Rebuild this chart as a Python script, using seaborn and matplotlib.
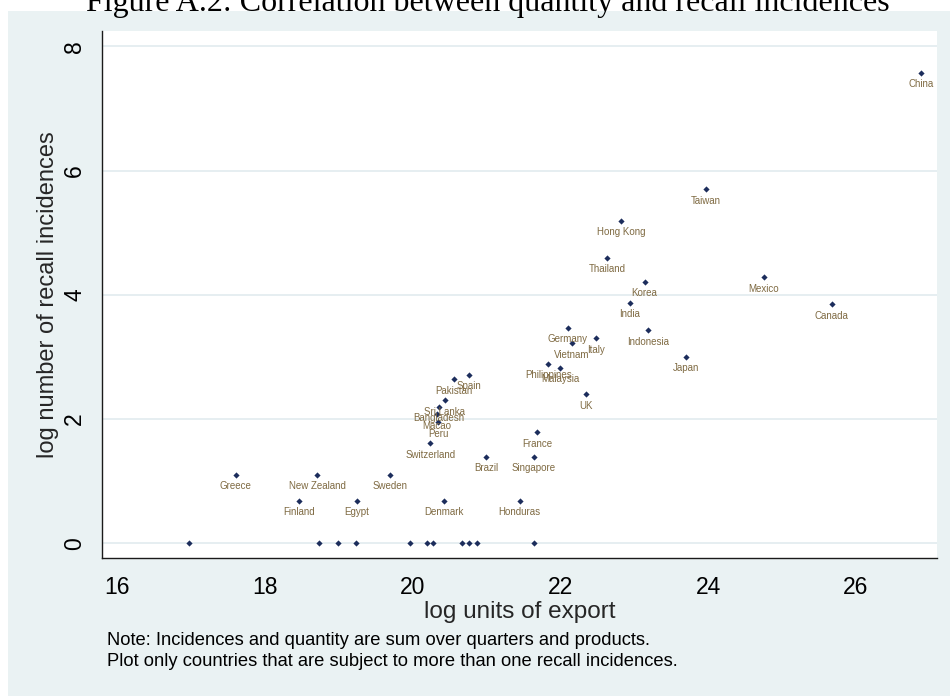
import matplotlib
matplotlib.use("Agg")
import matplotlib.pyplot as plt
from matplotlib.patches import Rectangle
import pandas as pd
import seaborn as sns

# Countries with recall incidences: log units of export vs log number of recalls
countries = [
    "China", "Taiwan", "Hong Kong", "Thailand", "Korea", "Mexico", "India",
    "Canada", "Indonesia", "Germany", "Italy", "Vietnam", "Japan",
    "Philippines", "Malaysia", "UK", "Spain", "Pakistan", "Sri Lanka",
    "Bangladesh", "Macao", "Peru", "Switzerland", "France", "Brazil",
    "Singapore", "Greece", "New Zealand", "Sweden", "Finland", "Egypt",
    "Denmark", "Honduras",
]
log_export = [
    26.88, 23.97, 22.82, 22.63, 23.14, 24.75, 22.94,
    25.67, 23.19, 22.10, 22.48, 22.16, 23.70,
    21.84, 22.00, 22.35, 20.76, 20.56, 20.44,
    20.36, 20.33, 20.35, 20.24, 21.69, 21.00,
    21.64, 17.61, 18.71, 19.70, 18.47, 19.25,
    20.42, 21.45,
]
log_recalls = [
    7.57, 5.70, 5.19, 4.60, 4.21, 4.28, 3.87,
    3.85, 3.43, 3.47, 3.30, 3.22, 3.00,
    2.89, 2.83, 2.40, 2.71, 2.64, 2.30,
    2.20, 2.08, 1.95, 1.61, 1.79, 1.39,
    1.39, 1.10, 1.10, 1.10, 0.69, 0.69,
    0.69, 0.69,
]
# Countries on the zero line (drawn without labels)
zero_export = [16.98, 18.73, 18.99, 19.24, 19.96, 20.20, 20.28, 20.67, 20.77, 20.87, 21.64]
zero_recalls = [0.0] * len(zero_export)

x_ticks = [16, 18, 20, 22, 24, 26]
y_ticks = [0, 2, 4, 6, 8]

title = "Figure A.2: Correlation between quantity and recall incidences"
note = ("Note: Incidences and quantity are sum over quarters and products.\n"
        "Plot only countries that are subject to more than one recall incidences.")

df = pd.DataFrame({
    "country": countries + [""] * len(zero_export),
    "log_export": log_export + zero_export,
    "log_recalls": log_recalls + zero_recalls,
})

BG = "#EAF2F3"
GRID = "#E6EEF1"
MARK = "#1c2d5c"
LABEL = "#7f6a42"
AXIS = "#1a1a1a"

sns.set_style("white")
plt.rcParams["font.family"] = ["Liberation Sans", "DejaVu Sans"]

fig = plt.figure(figsize=(9.5, 6.96), dpi=100)
fig.patch.set_facecolor("white")
fig.patches.append(Rectangle((8 / 950, 0), 1 - 8 / 950, 1 - 11 / 696,
                             transform=fig.transFigure, facecolor=BG,
                             edgecolor="none", zorder=-10))

ax = fig.add_axes([102 / 950, 1 - 558.3 / 696, 835.3 / 950, 527.6 / 696])
ax.set_facecolor("white")

sns.scatterplot(data=df, x="log_export", y="log_recalls", ax=ax,
                marker="D", s=10, color=MARK, linewidth=0, zorder=3)

for name, xv, yv in zip(df["country"], df["log_export"], df["log_recalls"]):
    if name:
        ax.annotate(name, (xv, yv), xytext=(0, -8.2), textcoords="offset points",
                    ha="center", va="center", fontsize=7, color=LABEL, zorder=4)

ax.set_xlim(15.80, 27.10)
ax.set_ylim(-0.24, 8.25)
ax.set_xticks(x_ticks)
ax.set_yticks(y_ticks)
ax.set_xticklabels([str(t) for t in x_ticks])
ax.set_yticklabels([str(t) for t in y_ticks], rotation=90, va="center")

ax.yaxis.grid(True, color=GRID, linewidth=1.4, zorder=0)
ax.xaxis.grid(False)
ax.set_axisbelow(True)

for side in ["top", "right"]:
    ax.spines[side].set_visible(False)
for side in ["left", "bottom"]:
    ax.spines[side].set_visible(True)
    ax.spines[side].set_color(AXIS)
    ax.spines[side].set_linewidth(1.0)

ax.tick_params(axis="both", which="major", direction="out", length=6.5,
               width=1.0, color=AXIS, labelsize=16.5, labelcolor="black")
ax.tick_params(axis="x", pad=6)
ax.tick_params(axis="y", pad=5)

ax.set_xlabel("log units of export", fontsize=17.5, va="center")
ax.xaxis.set_label_coords(0.5, (558.3 - 612) / 527.6)
ax.set_ylabel("log number of recall incidences", fontsize=17, va="center")
ax.yaxis.set_label_coords((48 - 102) / 835.3, 0.5)

fig.text(107 / 950, 1 - 632 / 696, note, ha="left", va="top",
         fontsize=13.2, linespacing=1.3, color="black")

fig.text(488 / 950, 1 - 11 / 696, title, ha="center", va="baseline",
         fontsize=23, family=["Liberation Serif", "DejaVu Serif"], color="black")

fig.savefig("out.png", dpi=100)
